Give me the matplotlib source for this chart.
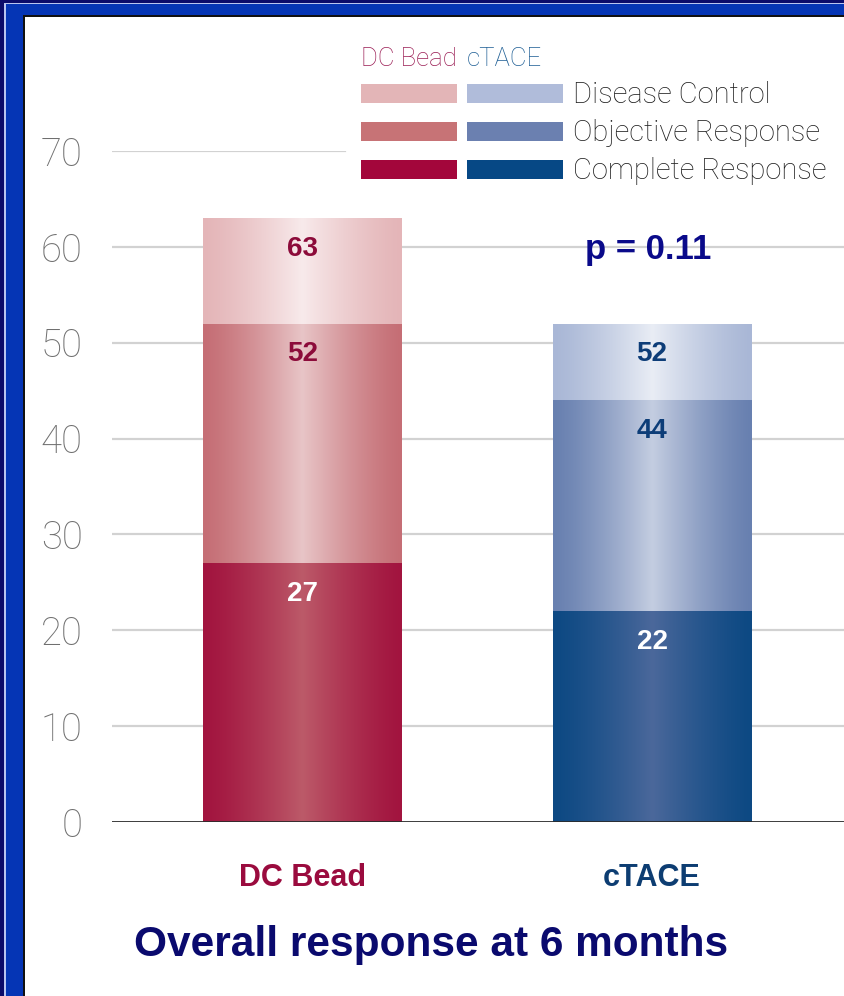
import numpy as np
import matplotlib
matplotlib.use("Agg")
import matplotlib.pyplot as plt
from matplotlib.colors import LinearSegmentedColormap
from matplotlib.patches import Rectangle

# ---------------- data ----------------
categories = ["DC Bead", "cTACE"]
complete_response = [27, 22]
objective_response = [52, 44]
disease_control = [63, 52]
yticks = [0, 10, 20, 30, 40, 50, 60, 70]
legend_labels = ["Disease Control", "Objective Response", "Complete Response"]
p_text = "p = 0.11"
title = "Overall response at 6 months"

# ---------------- style ----------------
W, H = 844, 996
fig = plt.figure(figsize=(W / 100, H / 100), dpi=100)
fig.patch.set_facecolor("white")

def fx(x):
    return x / W

def fy(y):
    return 1 - y / H

# frame (top and left border only)
def frect(x0, y0, x1, y1, color, z=0):
    fig.add_artist(Rectangle((fx(x0), fy(y1)), fx(x1) - fx(x0), fy(y0) - fy(y1),
                             transform=fig.transFigure, facecolor=color,
                             edgecolor="none", zorder=z))

frect(0, 0, W, 17, "#111111")
frect(0, 0, 25, H, "#111111")
frect(0, 0, W, 15, "#0535B5")
frect(0, 0, 23, H, "#0535B5")
frect(0, 3, W, 4, "#B8C4F0")
frect(4, 0, 6, H, "#B8C4F0")
frect(0, 0, W, 3, "#0B0B6A")
frect(0, 0, 4, H, "#0B0B6A")

# axes: y=0 at px 822, y=70 at px 151, left edge px 112
ax_left, ax_right = 112, 844
ax_bot, ax_top = 822, 151
ax = fig.add_axes([fx(ax_left), fy(ax_bot), fx(ax_right) - fx(ax_left), fy(ax_top) - fy(ax_bot)])
ax.set_facecolor("none")

# x: center 0 -> px 302.5, center 1 -> px 652
scale = 652 - 302.5
xlim = ((ax_left - 302.5) / scale, (ax_right - 302.5) / scale)
ylim = (0, 70)
bar_w = 199 / scale

for s in ax.spines.values():
    s.set_visible(False)
ax.set_xticks([])
ax.set_yticks(yticks)
ax.tick_params(axis="y", length=0, pad=21, labelsize=27.5, labelcolor="#6f6f6f")
for lab in ax.get_yticklabels():
    lab.set_fontfamily(["Roboto", "DejaVu Sans"])
    lab.set_fontweight("light")

# gridlines
for t in yticks[1:]:
    if t == 70:
        ax.axhline(t, xmin=0, xmax=(345 - ax_left) / (ax_right - ax_left),
                   color="#d2d2d2", lw=1.6, zorder=1)
    else:
        ax.axhline(t, color="#d2d2d2", lw=1.6, zorder=1)
ax.axhline(0, color="#2a2a2a", lw=2.0, zorder=5)

# gradient bars
colors = {
    0: [("#A2143F", "#BC5A69"), ("#C56E75", "#E8C5C7"), ("#E4B5B8", "#F8EAEB")],
    1: [("#0D4983", "#4B689B"), ("#6880B0", "#C4CDE1"), ("#A9B7D6", "#E9EDF5")],
}
grad = np.linspace(-1, 1, 400)
grad = (1 - np.abs(grad)) ** 1.3
grad = grad.reshape(1, -1)

x = np.arange(len(categories))
segments = [
    (np.array(complete_response), np.zeros(len(categories))),
    (np.array(objective_response) - np.array(complete_response), np.array(complete_response)),
    (np.array(disease_control) - np.array(objective_response), np.array(objective_response)),
]
for si, (heights, bottoms) in enumerate(segments):
    bars = ax.bar(x, heights, bottom=bottoms, width=bar_w, color="none",
                  edgecolor="none", zorder=2)
    for i, patch in enumerate(bars.patches):
        edge, center = colors[i][si]
        cmap = LinearSegmentedColormap.from_list("g", [edge, center])
        x0, y0 = patch.get_x(), patch.get_y()
        w, h = patch.get_width(), patch.get_height()
        im = ax.imshow(grad, extent=[x0, x0 + w, y0, y0 + h], cmap=cmap,
                       aspect="auto", interpolation="bicubic", zorder=2,
                       vmin=0, vmax=1)
        im.set_clip_path(patch)

ax.set_xlim(*xlim)
ax.set_ylim(*ylim)

# value labels
label_colors = {0: ["white", "#8C0B3A", "#8C0B3A"], 1: ["white", "#0D3D78", "#0D3D78"]}
tops = [complete_response, objective_response, disease_control]
for si, vals in enumerate(tops):
    for i, v in enumerate(vals):
        ax.text(x[i], v - 3.2, str(v), ha="center", va="center", fontsize=20,
                fontweight="bold", color=label_colors[i][si],
                fontfamily="Liberation Sans", zorder=6)

# p value
ax.text(x[1] - 0.01, 59.7, p_text, ha="center", va="center", fontsize=25,
        fontweight="bold", color="#0A0A8A", fontfamily="Liberation Sans", zorder=6)

# category labels
cat_colors = ["#9A0B3E", "#0D3D72"]
for i, c in enumerate(categories):
    fig.text(fx([303, 652][i]), fy(878), c, ha="center", va="center", fontsize=22,
             fontweight="bold", color=cat_colors[i], fontfamily="Liberation Sans")

# title
fig.text(fx(431), fy(945), title, ha="center", va="center", fontsize=30.5,
         fontweight="bold", color="#0A0A6E", fontfamily="Liberation Sans")

# legend
leg_cols = [(361, 457), (467, 563)]
row_y = [94, 132, 170]
box_h = 19
for i in range(2):
    for r in range(3):
        si = 2 - r
        col = [
            ["#A3063B", "#C77376", "#E3B5B7"],
            ["#064885", "#6B80B0", "#B0BCDA"],
        ][i][si]
        x0, x1 = leg_cols[i]
        frect(x0, row_y[r] - box_h / 2, x1, row_y[r] + box_h / 2, col, z=3)
for r, lab in enumerate(legend_labels):
    fig.text(fx(573), fy(row_y[r] + 1), lab, ha="left", va="center", fontsize=21,
             color="#1e1e1e", fontfamily=["Roboto", "DejaVu Sans"], fontweight="light")
fig.text(fx(361), fy(59), categories[0], ha="left", va="center", fontsize=18.5,
         color="#9B1E55", fontfamily=["Roboto", "DejaVu Sans"], fontweight="light")
fig.text(fx(467), fy(59), categories[1], ha="left", va="center", fontsize=18.5,
         color="#1F5F95", fontfamily=["Roboto", "DejaVu Sans"], fontweight="light")

fig.savefig("out.png", dpi=100)
